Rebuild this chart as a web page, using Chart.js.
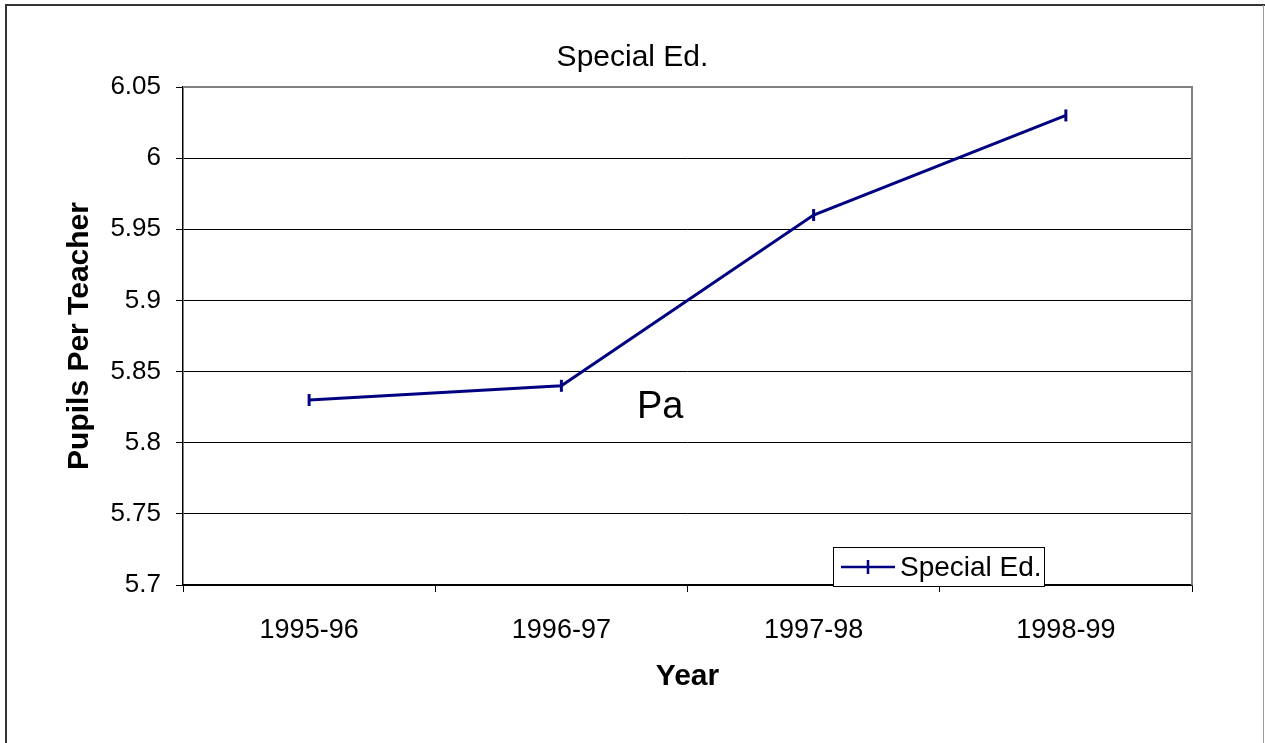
<!DOCTYPE html>
<html>
<head>
<meta charset="utf-8">
<script src="https://cdn.jsdelivr.net/npm/chart.js@4/dist/chart.umd.min.js"></script>
<style>
  html, body { margin: 0; padding: 0; background: #fff; }
  #wrap { position: relative; width: 1265px; height: 743px; }
</style>
</head>
<body>
<div id="wrap"><canvas id="chart" width="1265" height="743"></canvas></div>
<script>
const categories = ['1995-96', '1996-97', '1997-98', '1998-99'];
const specialEd = [5.83, 5.84, 5.96, 6.03];
const yTicks = [5.7, 5.75, 5.8, 5.85, 5.9, 5.95, 6, 6.05];

const seriesName = 'Special Ed.';
const lineColor = '#000080';
const fontFamily = '"Liberation Sans", Arial, sans-serif';

// frame, plot border, legend box and the stray "Pa" label
const decorations = {
  id: 'decorations',
  beforeDraw(chart) {
    const ctx = chart.ctx;
    ctx.save();
    ctx.fillStyle = '#fff';
    ctx.fillRect(0, 0, chart.width, chart.height);
    ctx.restore();
  },
  afterDraw(chart) {
    const ctx = chart.ctx;
    const area = chart.chartArea;
    ctx.save();

    // outer frame
    ctx.strokeStyle = '#333';
    ctx.lineWidth = 2;
    ctx.beginPath();
    ctx.moveTo(6, chart.height);
    ctx.lineTo(6, 5);
    ctx.lineTo(chart.width, 5);
    ctx.stroke();
    ctx.strokeStyle = '#999';
    ctx.lineWidth = 1;
    ctx.beginPath();
    ctx.moveTo(chart.width - 1.5, 5);
    ctx.lineTo(chart.width - 1.5, chart.height);
    ctx.stroke();

    // gray top / right plot border
    ctx.strokeStyle = '#808080';
    ctx.lineWidth = 2;
    ctx.beginPath();
    ctx.moveTo(area.left, area.top);
    ctx.lineTo(area.right, area.top);
    ctx.lineTo(area.right, area.bottom);
    ctx.stroke();

    // "Pa"
    ctx.fillStyle = '#000';
    ctx.font = '38px ' + fontFamily;
    ctx.textAlign = 'left';
    ctx.textBaseline = 'alphabetic';
    ctx.fillText('Pa', 637, 418);

    // legend box
    const lx = 833, ly = 547, lw = 211, lh = 39;
    ctx.fillStyle = '#fff';
    ctx.fillRect(lx, ly, lw, lh);
    ctx.strokeStyle = '#000';
    ctx.lineWidth = 1;
    ctx.strokeRect(lx + 0.5, ly + 0.5, lw, lh);
    const cy = ly + 20;
    ctx.strokeStyle = lineColor;
    ctx.lineWidth = 2.5;
    ctx.beginPath();
    ctx.moveTo(841, cy);
    ctx.lineTo(895, cy);
    ctx.moveTo(868, cy - 7);
    ctx.lineTo(868, cy + 7);
    ctx.stroke();
    ctx.fillStyle = '#000';
    ctx.font = '28px ' + fontFamily;
    ctx.textBaseline = 'middle';
    ctx.fillText(seriesName, 900, cy + 1);

    ctx.restore();
  }
};

new Chart(document.getElementById('chart'), {
  type: 'line',
  data: {
    labels: categories,
    datasets: [{
      label: seriesName,
      data: specialEd,
      borderColor: lineColor,
      backgroundColor: lineColor,
      borderWidth: 3,
      tension: 0,
      pointStyle: 'line',
      pointRotation: 90,
      pointRadius: 6,
      pointBorderWidth: 3,
      pointHoverRadius: 6
    }]
  },
  options: {
    responsive: false,
    animation: false,
    events: [],
    layout: { padding: 0 },
    plugins: {
      legend: { display: false },
      tooltip: { enabled: false },
      title: {
        display: true,
        text: 'Special Ed.',
        color: '#000',
        font: { family: fontFamily, size: 30, weight: 'normal', lineHeight: 1.2 },
        padding: { top: 40, bottom: 11 }
      }
    },
    scales: {
      x: {
        offset: true,
        grid: {
          offset: true,
          drawOnChartArea: false,
          drawTicks: true,
          tickLength: 7,
          color: '#000'
        },
        border: { color: '#000', width: 1.5 },
        ticks: {
          color: '#000',
          padding: 22,
          font: { family: fontFamily, size: 27 }
        },
        title: {
          display: true,
          text: 'Year',
          color: '#000',
          font: { family: fontFamily, size: 30, weight: 'bold', lineHeight: 1.2 },
          padding: { top: 0, bottom: 48 }
        },
        afterFit(scale) { scale.height = 158; }
      },
      y: {
        min: 5.7,
        max: 6.05,
        afterBuildTicks(scale) {
          scale.ticks = yTicks.map(v => ({ value: v }));
        },
        grid: {
          color: '#000',
          lineWidth: 1,
          tickLength: 7
        },
        border: { color: '#000', width: 1.5 },
        ticks: {
          color: '#000',
          padding: 15,
          font: { family: fontFamily, size: 26 },
          callback: v => String(Number(v.toFixed(2)))
        },
        title: {
          display: true,
          text: 'Pupils Per Teacher',
          color: '#000',
          font: { family: fontFamily, size: 30, weight: 'bold', lineHeight: 1.2 },
          padding: { top: 62, bottom: 0 }
        },
        afterFit(scale) { scale.width = 183; }
      },
      // empty right-hand margin so the title stays centred on the whole frame
      yRight: {
        position: 'right',
        display: true,
        grid: { display: false },
        border: { display: false },
        ticks: { display: false },
        afterFit(scale) { scale.width = 73; }
      }
    }
  },
  plugins: [decorations]
});
</script>
</body>
</html>
